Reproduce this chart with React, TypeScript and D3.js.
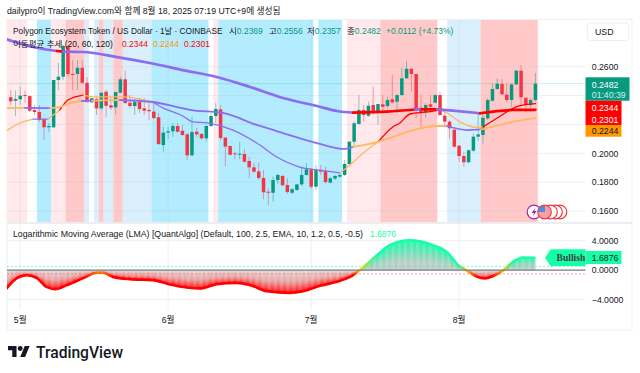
import React from "react";
import * as d3 from "d3";

const W = 640, H = 373;
const FONT = '"Liberation Sans","Noto Sans CJK KR",sans-serif';

// daily candles: open, high, low, close
const opens = [.2388,.2364,.2374,.2403,.2396,.2300,.2286,.2235,.2180,.2180,.2507,.2530,.2743,.2549,.2549,.2592,.2488,.2353,.2376,.2311,.2426,.2332,.2318,.2419,.2512,.2350,.2327,.2357,.2311,.2300,.2288,.2249,.2057,.2143,.2152,.2189,.2156,.2131,.1986,.2149,.2134,.2104,.2189,.2258,.2304,.2108,.2051,.2000,.1993,.1995,.1947,.1903,.1875,.1829,.1734,.1727,.1815,.1843,.1781,.1727,.1746,.1785,.1850,.1889,.1769,.1884,.1878,.1797,.1825,.1838,.1850,.1926,.2080,.2203,.2300,.2260,.2334,.2288,.2339,.2327,.2374,.2357,.2403,.2519,.2585,.2549,.2316,.2284,.2339,.2350,.2403,.2260,.2219,.2163,.2053,.1981,.1938,.2018,.2115,.2127,.2242,.2364,.2445,.2480,.2406,.2369,.2477,.2572,.2385,.2334,.2369];
const highs = [.2438,.2433,.2461,.2433,.2400,.2334,.2334,.2244,.2210,.2507,.2625,.2750,.2750,.2646,.2646,.2646,.2528,.2383,.2390,.2424,.2438,.2390,.2424,.2530,.2572,.2403,.2383,.2383,.2383,.2348,.2348,.2279,.2184,.2184,.2210,.2210,.2196,.2140,.2253,.2175,.2140,.2196,.2279,.2348,.2334,.2113,.2051,.2011,.2080,.2030,.1976,.1933,.1933,.1884,.1758,.1838,.1857,.1850,.1829,.1760,.1785,.1905,.1933,.1898,.1919,.1919,.1907,.1838,.1850,.1864,.1954,.2085,.2219,.2403,.2334,.2357,.2461,.2341,.2403,.2392,.2542,.2408,.2590,.2639,.2592,.2549,.2403,.2348,.2403,.2408,.2426,.2288,.2230,.2168,.2053,.2011,.2025,.2138,.2279,.2288,.2381,.2484,.2519,.2514,.2484,.2484,.2577,.2611,.2385,.2385,.2556];
const lows = [.2334,.2258,.2334,.2348,.2286,.2265,.2219,.2092,.2149,.2175,.2438,.2507,.2528,.2438,.2438,.2480,.2348,.2348,.2265,.2300,.2251,.2300,.2265,.2417,.2341,.2313,.2265,.2279,.2265,.2230,.2237,.2057,.2011,.2099,.2113,.2142,.2120,.1954,.1982,.2113,.2092,.2080,.2182,.2210,.2092,.1912,.1986,.1958,.1958,.1935,.1827,.1864,.1815,.1682,.1642,.1665,.1788,.1772,.1718,.1718,.1741,.1774,.1845,.1755,.1746,.1850,.1792,.1792,.1815,.1831,.1843,.1919,.2046,.2196,.2219,.2253,.2265,.2196,.2286,.2311,.2346,.2279,.2399,.2514,.2426,.2244,.2175,.2244,.2286,.2346,.2260,.2184,.2104,.2039,.1942,.1907,.1931,.2011,.2085,.2069,.2230,.2357,.2438,.2401,.2357,.2322,.2472,.2334,.2281,.2288,.2357];
const closes = [.2360,.2376,.2399,.2396,.2295,.2286,.2230,.2180,.2189,.2507,.2530,.2743,.2549,.2542,.2592,.2488,.2357,.2381,.2311,.2419,.2329,.2316,.2424,.2512,.2348,.2327,.2357,.2306,.2295,.2291,.2244,.2064,.2143,.2152,.2189,.2149,.2127,.1986,.2147,.2131,.2104,.2189,.2258,.2307,.2106,.2046,.1990,.1993,.1997,.1942,.1903,.1873,.1829,.1730,.1727,.1815,.1850,.1779,.1732,.1751,.1785,.1850,.1889,.1769,.1884,.1873,.1801,.1827,.1843,.1850,.1926,.2080,.2208,.2300,.2265,.2329,.2293,.2341,.2322,.2369,.2353,.2403,.2519,.2585,.2549,.2300,.2284,.2334,.2322,.2403,.2265,.2219,.2173,.2046,.1981,.1938,.2021,.2115,.2131,.2246,.2369,.2445,.2482,.2408,.2369,.2477,.2572,.2388,.2334,.2369,.2482];

// moving averages: [day index, value, state]; state: 0 orange, 1 red, 2 purple
const ma120 = [[-1,.2790,2],[4.7,.2736,2],[9.7,.2708,1],[11,.2704,2],[15.2,.2701,2],[22.3,.2666,2],[29.2,.2625,2],[36.1,.2576,2],[43.2,.2528,2],[50.2,.2459,2],[57.1,.2383,2],[64.2,.2327,2],[68.4,.2293,2],[71.8,.2281,1],[78.9,.2288,1],[84.8,.2303,2],[86.2,.2304,1],[89.4,.2304,2],[92.7,.2295,2],[98.4,.2277,1],[105.3,.2300,1],[110,.2301,1]];
const ma60 = [[-1,.2313,0],[3,.2315,2],[8.2,.2313,0],[10.3,.2320,0],[12.4,.2348,0],[14.9,.2362,2],[17.1,.2364,0],[22.9,.2369,2],[29.8,.2355,2],[34.9,.2320,2],[37.6,.2300,2],[44.5,.2279,2],[51.6,.2196,2],[57.1,.2140,2],[64.2,.2071,2],[70.1,.2030,2],[71.8,.2044,0],[76.8,.2078,0],[80.1,.2113,0],[83.7,.2154,0],[89.4,.2189,0],[91.5,.2189,2],[95.7,.2161,2],[98.6,.2165,0],[102.6,.2196,0],[106.1,.2224,0],[110,.2244,0]];
const ma20 = [[-1,.2154,0],[2,.2210,0],[4.7,.2237,2],[7.8,.2237,0],[8.9,.2265,0],[10.3,.2300,1],[12,.2369,1],[15.2,.2403,0],[17.7,.2390,0],[23.5,.2390,0],[27.1,.2376,0],[29.8,.2355,2],[32,.2313,2],[36.1,.2258,2],[38.2,.2217,2],[41.2,.2210,2],[46.6,.2161,2],[51.6,.2071,2],[55.8,.1974,2],[60.6,.1905,2],[64.8,.1884,2],[69,.1864,0],[71.1,.1919,0],[73.9,.2002,0],[77,.2078,1],[80.1,.2182,1],[81.6,.2210,1],[83.7,.2272,1],[87.5,.2286,1],[90,.2300,0],[91.5,.2279,0],[94.2,.2217,0],[97.7,.2179,0],[99,.2182,1],[102,.2244,1],[104.7,.2300,1],[106.4,.2327,1],[110,.2344,1]];

// background state ranges in day index
const bandEdges = [-1,3.5,5.5,8.5,11.5,15.5,16.5,17.5,18.5,19.5,21.5,23.5,29.5,41.5,42.5,43.5,63.5,64.5,69.5,70.5,77.5,89.5,91.5,98.5,110.5];
const bandKinds = "pwcprbwbrbrbcwpcwcwprwbr".split("");

// lower pane: LMA oscillator [day index, value]
const lma = [[-1,-2.57],[1.3,-1.08],[3.4,-.68],[5.5,-1.08],[7.6,-2.30],[9.3,-2.57],[11.8,-2.03],[15.2,-1.08],[18.1,-.36],[19.4,-.36],[21.4,-.91],[25,-1.22],[29.8,-1.35],[33.4,-1.93],[36.9,-2.34],[39.7,-2.47],[43.2,-1.89],[47.4,-1.72],[50.2,-2.03],[53.7,-2.84],[58.5,-3.07],[61.3,-2.84],[64.8,-2.12],[68.4,-1.58],[71.8,-.68],[73.2,0],[76.8,2.03],[79.5,3.38],[83.7,4.05],[88.5,3.38],[91.7,2.30],[93.8,.68],[95.7,-.09],[97.8,-.91],[99.4,-1.12],[101.1,-.81],[103.2,-.09],[105.3,1.12],[107.4,1.72],[110,1.6876]];

const priceTicks = [.26,.24,.22,.20,.18,.16];
const priceLabels = [.26,.20,.18,.16];
const lmaTicks = [4,0,-4];
const monthTicks = [[2,"5월"],[33,"6월"],[63,"7월"],[94,"8월"]] as [number,string][];

const PL = 7, PR = 585.5, FR = 632, PT = 20, PB = 222.5, FB = 330;
const x = d3.scaleLinear().domain([0,110]).range([10.7,535.4]);
const y = d3.scaleLinear().domain([.2,.26]).range([153.3,66.6]);
const yL = d3.scaleLinear().domain([-4,4]).range([299.7,240.6]);

const UP = "#089981", DOWN = "#f23645";
const bandColor: Record<string,string> = { p:"#ffe9ec", w:"#ffffff", c:"#b3ebff", r:"#ffc9c9", b:"#d9effc" };
const stateColor = ["#ffb860","#ff0000","#8c6cf0"];
const lmaColor = d3.scaleLinear<string>().domain([-.7,-.25,0,.3,.7]).range(["#ff0000","#ff9800","#ffd400","#80f060","#14ffa8"]).clamp(true);

function MaLine({ data, width, colors }: { data:number[][]; width:number; colors:string[] }) {
  const full = d3.line<number[]>().x(d=>x(d[0])).y(d=>y(d[1])).curve(d3.curveMonotoneX);
  const runs:{pts:number[][];s:number}[] = [];
  for (let i=0;i<data.length-1;i++) {
    const s = data[i][2];
    const last = runs[runs.length-1];
    if (last && last.s===s) last.pts.push(data[i+1]);
    else runs.push({pts:[data[i],data[i+1]],s});
  }
  return <g clipPath="url(#plotClip)">{runs.map((r,i)=>
    <path key={i} d={full(r.pts)!} fill="none" stroke={colors[r.s]} strokeWidth={width} strokeLinecap="round" strokeLinejoin="round"/>)}</g>;
}

function Flag({ cx, cy, front }: { cx:number; cy:number; front:boolean }) {
  const r = 6.5;
  const id = `fl${Math.round(cx)}`;
  return <g>
    <clipPath id={id}><circle cx={cx} cy={cy} r={r}/></clipPath>
    <circle cx={cx} cy={cy} r={r} fill="#fff"/>
    {front && <g clipPath={`url(#${id})`}>
      {d3.range(0,7).map(i=> <rect key={i} x={cx-r} y={cy-r+i*2} width={2*r} height={1} fill="#f0404a"/>)}
      <rect x={cx-r} y={cy-r} width={r+.5} height={r} fill="#4a90e2"/>
    </g>}
    <circle cx={cx} cy={cy} r={r+.3} fill="none" stroke="#f23645" strokeWidth={1.2}/>
  </g>;
}

export default function App() {
  const lmaLine = d3.line<number[]>().x(d=>x(d[0])).y(d=>yL(d[1])).curve(d3.curveMonotoneX);
  const lmaArea = d3.area<number[]>().x(d=>x(d[0])).y0(yL(0)).y1(d=>yL(d[1])).curve(d3.curveMonotoneX);
  const lmaAt = d3.scaleLinear().domain(lma.map(d=>d[0])).range(lma.map(d=>d[1]));
  const cols = d3.range(0,111*4+4).map(i=>-1+i/4);
  const xMin = x(-1), xMax = x(110);
  return (
    <svg width={W} height={H} viewBox={`0 0 ${W} ${H}`} style={{position:"fixed",left:0,top:0,background:"#fff",fontFamily:FONT}}>
      <defs>
        <clipPath id="plotClip"><rect x={PL} y={PT} width={PR-PL} height={PB-PT}/></clipPath>
        <clipPath id="lmaClip"><path d={lmaArea(lma)!}/></clipPath>
        <clipPath id="lowClip"><rect x={PL} y={224} width={PR-PL} height={90}/></clipPath>
        <linearGradient id="gUp" x1="0" x2="0" y1="0" y2="1">
          <stop offset="0" stopColor="#14ffa8"/><stop offset=".4" stopColor="#70e0b8"/><stop offset=".75" stopColor="#b8cfc6"/><stop offset="1" stopColor="#c8c8c8"/>
        </linearGradient>
        <linearGradient id="gDn" x1="0" x2="0" y1="0" y2="1">
          <stop offset="0" stopColor="#e2dcdc"/><stop offset=".5" stopColor="#e8a0a0"/><stop offset=".85" stopColor="#ff3434"/><stop offset="1" stopColor="#ff0000"/>
        </linearGradient>
        <linearGradient id="gLine" gradientUnits="userSpaceOnUse" x1={xMin} x2={xMax} y1="0" y2="0">
          {lma.map((d,i)=><stop key={i} offset={(x(d[0])-xMin)/(xMax-xMin)} stopColor={lmaColor(d[1])}/>)}
        </linearGradient>
      </defs>

      <text x={7} y={14} fontSize={8.7} fill="#131722">dailypro이 TradingView.com와 함께 8월 18, 2025 07:19 UTC+9에 생성됨</text>

      {/* frame */}
      <rect x={PL} y={PT-.5} width={FR-PL} height={FB-PT+.5} fill="#fff" stroke="#eff0f2"/>

      {/* signal bands */}
      <g clipPath="url(#plotClip)">
        {bandKinds.map((k,i)=>
          <rect key={i} x={x(bandEdges[i])} y={PT} width={x(bandEdges[i+1])-x(bandEdges[i])} height={PB-PT} fill={bandColor[k]}/>)}
      </g>

      {/* grid */}
      <g stroke="#b8bcc8" strokeOpacity={.22}>
        {priceTicks.map(t=><line key={t} x1={PL} x2={PR} y1={y(t)} y2={y(t)}/>)}
        {lmaTicks.filter(t=>t!==0).map(t=><line key={t} x1={PL} x2={PR} y1={yL(t)} y2={yL(t)}/>)}
        {monthTicks.map(([k])=><line key={k} x1={x(k)} x2={x(k)} y1={PT} y2={PB}/>)}
        {monthTicks.map(([k])=><line key={k+"b"} x1={x(k)} x2={x(k)} y1={224} y2={310}/>)}
      </g>
      <line x1={PL} x2={FR} y1={223} y2={223} stroke="#e6e8ec" strokeWidth={1.4}/>

      {/* last price line */}
      <line x1={PL} x2={PR} y1={y(closes[110])} y2={y(closes[110])} stroke={UP} strokeOpacity={.18}/>

      {/* candles */}
      <g>
        {opens.map((o,i)=>{
          const c = closes[i], up = c>=o, col = up?UP:DOWN, cx = x(i);
          const t = y(Math.max(o,c)), b = y(Math.min(o,c));
          return <g key={i}>
            <line x1={cx} x2={cx} y1={y(highs[i])} y2={y(lows[i])} stroke={col} strokeOpacity={.45} strokeWidth={1}/>
            <rect x={cx-1.75} y={t} width={3.5} height={Math.max(b-t,1)} fill={col}/>
          </g>;
        })}
      </g>

      {/* moving averages */}
      <MaLine data={ma20} width={1.3} colors={stateColor}/>
      <MaLine data={ma60} width={1.8} colors={stateColor}/>
      <MaLine data={ma120} width={2.7} colors={stateColor}/>

      {/* event icons */}
      <circle cx={534} cy={212} r={6.8} fill="#fff" stroke="#9c27b0" strokeWidth={1.2}/>
      <path d="M535.5 207.5 L531.5 213 L534 213 L532.5 216.5 L536.8 211 L534.2 211 Z" fill="#9c27b0"/>
      {[560,555.5,550.5,544.5].map((c,i)=><Flag key={c} cx={c} cy={212} front={i===3}/>)}

      {/* legends */}
      <g fontSize={8.5}>
        <text x={13} y={34} fontSize={8.3} fill="#131722">Polygon Ecosystem Token / US Dollar · 1날 · COINBASE</text>
        <text x={229} y={34} fill="#131722">시<tspan fill={UP}>0.2369</tspan></text>
        <text x={269} y={34} fill="#131722">고<tspan fill={UP}>0.2556</tspan></text>
        <text x={307} y={34} fill="#131722">저<tspan fill={UP}>0.2357</tspan></text>
        <text x={347} y={34} fill="#131722">종<tspan fill={UP}>0.2482</tspan></text>
        <text x={386} y={34} fill={UP}>+0.0112 (+4.73%)</text>
        <text x={13} y={47} fill="#131722">이동평균 추세 (20, 60, 120)</text>
        <text x={122} y={47} fill="#ff0000">0.2344</text>
        <text x={153} y={47} fill="#ff9800">0.2244</text>
        <text x={184} y={47} fill="#ff0000">0.2301</text>
        <text x={13} y={237} fontSize={8.75} fill="#131722">Logarithmic Moving Average (LMA) [QuantAlgo] (Default, 100, 2.5, EMA, 10, 1.2, 0.5, -0.5)</text>
        <text x={370} y={237} fill="#14ffa8">1.6876</text>
      </g>

      {/* USD button */}
      <rect x={587.5} y={23} width={41} height={17.5} rx={3} fill="#fff" stroke="#eceef1"/>
      <text x={595} y={35} fontSize={8.8} fill="#131722">USD</text>

      {/* price axis */}
      <g fontSize={8.7} fill="#131722">
        {priceLabels.map(t=><text key={t} x={591.8} y={y(t)+3.2}>{t.toFixed(4)}</text>)}
        {lmaTicks.map(t=><text key={t} x={591.8} y={yL(t)+3.2}>{t<0?"−":""}{Math.abs(t).toFixed(4)}</text>)}
      </g>
      <rect x={585.5} y={77.3} width={44} height={23.4} fill={UP}/>
      <text x={591.8} y={87.5} fontSize={8.7} fill="#fff">{closes[110].toFixed(4)}</text>
      <text x={591.8} y={97.5} fontSize={8.7} fill="#d4f0ea">01:40:39</text>
      <rect x={585.5} y={100.7} width={36} height={24.3} fill="#ff0000"/>
      <text x={591.8} y={110.5} fontSize={8.7} fill="#fff">0.2344</text>
      <text x={591.8} y={122.5} fontSize={8.7} fill="#fff">0.2301</text>
      <rect x={585.5} y={125} width={36} height={11.7} fill="#ff9800"/>
      <text x={591.8} y={134.3} fontSize={8.7} fill="#131722">0.2244</text>

      {/* LMA pane */}
      <g clipPath="url(#lowClip)">
        <g clipPath="url(#lmaClip)">
          {cols.map(k=>{
            const v = Math.max(Math.abs(lmaAt(k)),Math.abs(lmaAt(k+.25)))*1.05+.03;
            const pos = lmaAt(k+.125)>=0;
            const top = pos?yL(v):yL(0);
            const h = Math.abs(yL(v)-yL(0));
            return <rect key={k} x={x(k)} y={top} width={x(k+.25)-x(k)+.2} height={h} fill={pos?"url(#gUp)":"url(#gDn)"}/>;
          })}
        </g>
        <path d={lmaLine(lma)!} fill="none" stroke="url(#gLine)" strokeWidth={2.6} strokeLinejoin="round"/>
      </g>
      <line x1={PL} x2={PR} y1={yL(.5)} y2={yL(.5)} stroke="#14ffa8" strokeOpacity={.6} strokeDasharray="2 2"/>
      <line x1={PL} x2={PR} y1={yL(-.5)} y2={yL(-.5)} stroke="#ff5050" strokeOpacity={.55} strokeDasharray="2 2"/>
      <line x1={PL} x2={PR} y1={yL(0)} y2={yL(0)} stroke="#787b86" strokeWidth={1.3}/>

      <path d="M545 257.7 L550.5 249.3 L585.5 249.3 L585.5 266 L550.5 266 Z" fill="#14ffa8"/>
      <text x={556.5} y={261} fontSize={9.6} fontWeight={700} fontFamily='"Liberation Serif",serif' fill="#3c4043">Bullish</text>
      <rect x={585.5} y={251} width={36} height={13} fill="#14ffa8"/>
      <text x={591.8} y={260.8} fontSize={8.7} fill="#131722">1.6876</text>

      {/* time axis */}
      <g fontSize={8.7} fill="#131722" textAnchor="middle">
        {monthTicks.map(([k,l])=><text key={k} x={x(k)} y={323}>{l}</text>)}
      </g>

      {/* brand */}
      <g transform="translate(8,343.6) scale(.61)" fill="#131722">
        <path d="M14 22H7V11H0V4h14v18zM28 22h-8l7.5-18h8L28 22z"/>
        <circle cx={20} cy={8} r={4}/>
      </g>
      <text x={36} y={357.5} fontSize={16} fontWeight={500} fontFamily='Roboto,Inter,sans-serif' fill="#131722" textLength={87} lengthAdjust="spacingAndGlyphs">TradingView</text>
    </svg>
  );
}
